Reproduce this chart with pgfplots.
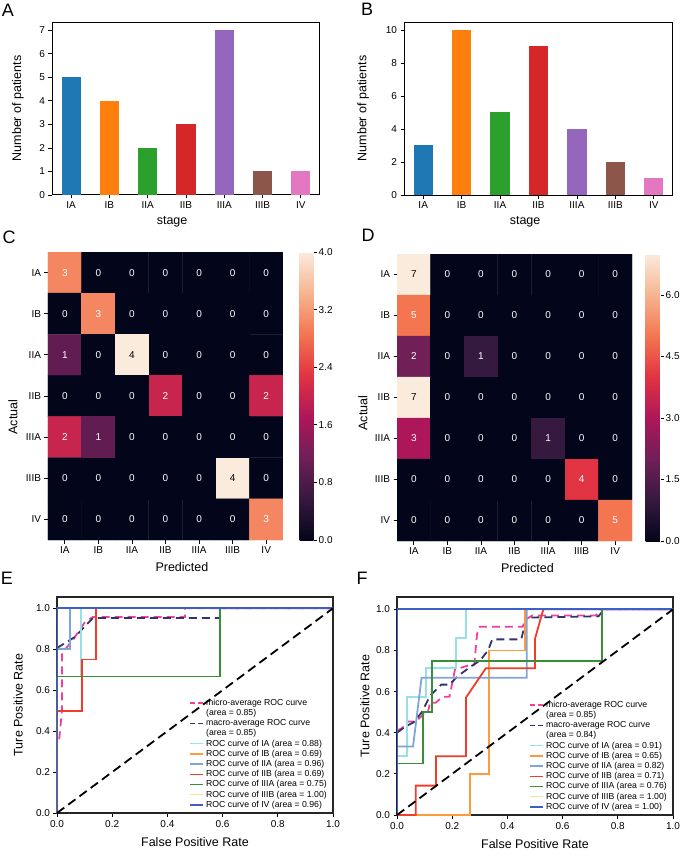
\documentclass[border=0pt]{standalone}
\usepackage{fontspec}
\setmainfont{Liberation Sans}
\usepackage{pgfplots}
\usepackage{pgfplotstable}
\pgfplotsset{compat=1.18}

% bar colours
\definecolor{bIA}{HTML}{1F77B4}
\definecolor{bIB}{HTML}{FF7F0E}
\definecolor{bIIA}{HTML}{2CA02C}
\definecolor{bIIB}{HTML}{D62728}
\definecolor{bIIIA}{HTML}{9467BD}
\definecolor{bIIIB}{HTML}{8C564B}
\definecolor{bIV}{HTML}{E377C2}
% roc colours
\definecolor{rIA}{HTML}{96E0E6}
\definecolor{rIB}{HTML}{FF9A3C}
\definecolor{rIIA}{HTML}{7FA4DC}
\definecolor{rIIB}{HTML}{F03C28}
\definecolor{rIIIA}{HTML}{3A8E3A}
\definecolor{rIIIB}{HTML}{F2E29C}
\definecolor{rIV}{HTML}{3F5FC8}
\definecolor{micro}{HTML}{F0409A}
\definecolor{macro}{HTML}{33336B}

\pgfplotsset{
  every axis/.append style={
    scale only axis,
    font=\fontsize{12.5}{14}\selectfont,
    tick label style={font=\fontsize{10}{12}\selectfont},
    /pgf/number format/assume math mode=true,
    major tick length=3.5pt, tick align=outside,
    tick style={line width=0.8pt, black},
  },
  barax/.style={
    xmin=-0.5, xmax=6.5, ymin=0,
    xtick={0,...,6}, xticklabels={IA,IB,IIA,IIB,IIIA,IIIB,IV},
    xtick pos=bottom, ytick pos=left,
    axis line style={line width=1pt},
    ylabel={Number of patients},
  },
  heat/.style={
    xmin=-0.5, xmax=6.5, ymin=-0.5, ymax=6.5, y dir=reverse,
    xtick={0,...,6}, ytick={0,...,6},
    xticklabels={IA,IB,IIA,IIB,IIIA,IIIB,IV},
    yticklabels={IA,IB,IIA,IIB,IIIA,IIIB,IV},
    xtick pos=bottom, ytick pos=left,
    axis line style={draw=none},
    colormap={rocket}{rgb255=(3,5,26) rgb255=(53,25,62) rgb255=(112,31,87)
      rgb255=(173,23,89) rgb255=(225,51,66) rgb255=(243,118,81)
      rgb255=(246,180,143) rgb255=(250,235,221)},
    point meta min=0,
    xlabel={Predicted}, ylabel={Actual}, title={stage},
    colorbar,
  },
  cbar/.style={
    scale only axis, anchor=north west,
    ytick pos=right, yticklabel pos=right, tick align=outside,
    axis line style={draw=none}, major tick length=3pt,
    yticklabel style={inner xsep=2pt,
      /pgf/number format/.cd, fixed, fixed zerofill, precision=1},
  },
  roc/.style={
    xmin=0, xmax=1, ymin=0,
    xtick={0,0.2,0.4,0.6,0.8,1}, ytick={0,0.2,0.4,0.6,0.8,1},
    ticklabel style={/pgf/number format/.cd, fixed, fixed zerofill, precision=1},
    axis line style={line width=1.2pt, black!85},
    xtick pos=bottom, ytick pos=left,
    xlabel={False Positive Rate}, ylabel={Ture Positive Rate},
    legend cell align=left,
    legend image code/.code={\draw[#1] (0pt,0pt) -- (13pt,0pt);},
    legend style={at={(1,0)}, anchor=south east, draw=none, fill=none,
      font=\fontsize{8.7}{9}\selectfont, row sep=-1.6pt, inner sep=1pt,
      /tikz/every odd column/.style={column sep=0pt}},
  },
  cl/.style={forget plot, line width=1.8pt},
  dsh/.style={forget plot, line width=1.8pt, dash pattern=on 8pt off 5pt},
  labs/.style={draw=none, mark=none, point meta=explicit,
    nodes near coords, nodes near coords align={center},
    nodes near coords style={font=\fontsize{10}{12}\selectfont}},
}

\pgfplotstableread{
x y c
0 0 3
1 0 0
2 0 0
3 0 0
4 0 0
5 0 0
6 0 0
0 1 0
1 1 3
2 1 0
3 1 0
4 1 0
5 1 0
6 1 0
0 2 1
1 2 0
2 2 4
3 2 0
4 2 0
5 2 0
6 2 0
0 3 0
1 3 0
2 3 0
3 3 2
4 3 0
5 3 0
6 3 2
0 4 2
1 4 1
2 4 0
3 4 0
4 4 0
5 4 0
6 4 0
0 5 0
1 5 0
2 5 0
3 5 0
4 5 0
5 5 4
6 5 0
0 6 0
1 6 0
2 6 0
3 6 0
4 6 0
5 6 0
6 6 3
}\cmC

\pgfplotstableread{
x y c
0 0 7
1 0 0
2 0 0
3 0 0
4 0 0
5 0 0
6 0 0
0 1 5
1 1 0
2 1 0
3 1 0
4 1 0
5 1 0
6 1 0
0 2 2
1 2 0
2 2 1
3 2 0
4 2 0
5 2 0
6 2 0
0 3 7
1 3 0
2 3 0
3 3 0
4 3 0
5 3 0
6 3 0
0 4 3
1 4 0
2 4 0
3 4 0
4 4 1
5 4 0
6 4 0
0 5 0
1 5 0
2 5 0
3 5 0
4 5 0
5 5 4
6 5 0
0 6 0
1 6 0
2 6 0
3 6 0
4 6 0
5 6 0
6 6 5
}\cmD

\begin{document}
\begin{tikzpicture}
\path[use as bounding box] (0pt,0pt) rectangle (685pt,-852pt);

% panel letters
\node[font=\fontsize{18}{20}\selectfont] at (8pt,-10pt) {A};
\node[font=\fontsize{18}{20}\selectfont] at (367pt,-9pt) {B};
\node[font=\fontsize{18}{20}\selectfont] at (9pt,-237pt) {C};
\node[font=\fontsize{18}{20}\selectfont] at (368pt,-235pt) {D};
\node[font=\fontsize{18}{20}\selectfont] at (7pt,-578pt) {E};
\node[font=\fontsize{18}{20}\selectfont] at (362pt,-578pt) {F};

% A: number of patients per stage
\begin{axis}[barax, at={(52pt,-22pt)}, anchor=north west,
  width=268pt, height=173pt, ymax=7.35, ytick={0,...,7},
  ylabel style={at={(axis description cs:-0.127,0.5)}, anchor=center}]
\addplot[ybar, bar width=0.5, bar shift=0pt, fill=bIA, draw=none] coordinates {(0,5)};
\addplot[ybar, bar width=0.5, bar shift=0pt, fill=bIB, draw=none] coordinates {(1,4)};
\addplot[ybar, bar width=0.5, bar shift=0pt, fill=bIIA, draw=none] coordinates {(2,2)};
\addplot[ybar, bar width=0.5, bar shift=0pt, fill=bIIB, draw=none] coordinates {(3,3)};
\addplot[ybar, bar width=0.5, bar shift=0pt, fill=bIIIA, draw=none] coordinates {(4,7)};
\addplot[ybar, bar width=0.5, bar shift=0pt, fill=bIIIB, draw=none] coordinates {(5,1)};
\addplot[ybar, bar width=0.5, bar shift=0pt, fill=bIV, draw=none] coordinates {(6,1)};
\end{axis}

% B
\begin{axis}[barax, at={(404pt,-22pt)}, anchor=north west,
  width=269pt, height=173pt, ymax=10.48, ytick={0,2,...,10},
  ylabel style={at={(axis description cs:-0.152,0.5)}, anchor=center}]
\addplot[ybar, bar width=0.5, bar shift=0pt, fill=bIA, draw=none] coordinates {(0,3)};
\addplot[ybar, bar width=0.5, bar shift=0pt, fill=bIB, draw=none] coordinates {(1,10)};
\addplot[ybar, bar width=0.5, bar shift=0pt, fill=bIIA, draw=none] coordinates {(2,5)};
\addplot[ybar, bar width=0.5, bar shift=0pt, fill=bIIB, draw=none] coordinates {(3,9)};
\addplot[ybar, bar width=0.5, bar shift=0pt, fill=bIIIA, draw=none] coordinates {(4,4)};
\addplot[ybar, bar width=0.5, bar shift=0pt, fill=bIIIB, draw=none] coordinates {(5,2)};
\addplot[ybar, bar width=0.5, bar shift=0pt, fill=bIV, draw=none] coordinates {(6,1)};
\end{axis}

% C: confusion matrix
\begin{axis}[heat, at={(48pt,-252pt)}, anchor=north west,
  width=235pt, height=288pt, point meta max=4,
  title style={at={(axis description cs:0.528,1.083)}, anchor=center},
  xlabel style={at={(axis description cs:0.57,-0.094)}, anchor=center},
  ylabel style={at={(axis description cs:-0.149,0.427)}, anchor=center},
  colorbar style={cbar, at={(parent axis.north east)}, xshift=8pt, width=14pt,
    ytick={0,0.8,1.6,2.4,3.2,4}}]
\addplot[matrix plot*, mesh/cols=7, point meta=explicit] table[meta=c] {\cmC};
\addplot[labs, white, restrict expr to domain={\thisrow{c}}{-1:3.5}] table[meta=c] {\cmC};
\addplot[labs, black, restrict expr to domain={\thisrow{c}}{3.5:10}] table[meta=c] {\cmC};
\end{axis}

% D
\begin{axis}[heat, at={(397pt,-254pt)}, anchor=north west,
  width=235pt, height=287pt, point meta max=7,
  title style={at={(axis description cs:0.545,1.091)}, anchor=center},
  xlabel style={at={(axis description cs:0.555,-0.094)}, anchor=center},
  ylabel style={at={(axis description cs:-0.145,0.446)}, anchor=center},
  colorbar style={cbar, at={(parent axis.north east)}, xshift=5pt, width=15pt,
    ytick={0,1.5,3,4.5,6}}]
\addplot[matrix plot*, mesh/cols=7, point meta=explicit] table[meta=c] {\cmD};
\addplot[labs, white, restrict expr to domain={\thisrow{c}}{-1:6.5}] table[meta=c] {\cmD};
\addplot[labs, black, restrict expr to domain={\thisrow{c}}{6.5:10}] table[meta=c] {\cmD};
\end{axis}

% E: ROC curves
\begin{axis}[roc, at={(57pt,-597pt)}, anchor=north west,
  width=276pt, height=216pt, ymax=1.055,
  xlabel style={at={(axis description cs:0.5,-0.135)}, anchor=center},
  ylabel style={at={(axis description cs:-0.141,0.5)}, anchor=center},
  legend style={xshift=-3pt, yshift=1pt}]
\addplot[dsh, micro] coordinates {
(0.008,0.36) (0.018,0.5) (0.018,0.78) (0.06,0.85) (0.1,0.93) (0.13,0.957)
(0.464,0.957) (0.464,1) (1,1)};
\addplot[dsh, macro] coordinates {
(0,0.806) (0.065,0.86) (0.107,0.92) (0.13,0.952) (0.59,0.952) (0.59,1) (1,1)};
\addplot[cl, rIA] coordinates {(0,0) (0,0.667) (0.088,0.667) (0.088,1) (1,1)};
\addplot[cl, rIB] coordinates {(0,0) (0,0.5) (0.092,0.5) (0.092,0.75) (0.141,0.75) (0.141,1) (1,1)};
\addplot[cl, rIIA] coordinates {(0,0) (0,0.8) (0.048,0.8) (0.048,1) (1,1)};
\addplot[cl, rIIB] coordinates {(0,0) (0,0.5) (0.092,0.5) (0.092,0.75) (0.141,0.75) (0.141,1) (1,1)};
\addplot[cl, rIIIA] coordinates {(0,0) (0,0.667) (0.59,0.667) (0.59,1) (1,1)};
\addplot[cl, rIIIB] coordinates {(0,0) (0,1) (1,1)};
\addplot[cl, rIV] coordinates {(0,0) (0,1) (1,1)};
\addplot[forget plot, black, line width=1.8pt, dash pattern=on 9pt off 5pt] coordinates {(0,0) (1,1)};
\addlegendimage{micro, line width=1.5pt, dash pattern=on 5pt off 3pt}
\addlegendentry{micro-average ROC curve}
\addlegendimage{empty legend}
\addlegendentry{(area = 0.85)}
\addlegendimage{macro, line width=1.5pt, dash pattern=on 5pt off 3pt}
\addlegendentry{macro-average ROC curve}
\addlegendimage{empty legend}
\addlegendentry{(area = 0.85)}
\addlegendimage{rIA, line width=1.5pt}\addlegendentry{ROC curve of IA (area = 0.88)}
\addlegendimage{rIB, line width=1.5pt}\addlegendentry{ROC curve of IB (area = 0.69)}
\addlegendimage{rIIA, line width=1.5pt}\addlegendentry{ROC curve of IIA (area = 0.96)}
\addlegendimage{rIIB, line width=1.5pt}\addlegendentry{ROC curve of IIB (area = 0.69)}
\addlegendimage{rIIIA, line width=1.5pt}\addlegendentry{ROC curve of IIIA (area = 0.75)}
\addlegendimage{rIIIB, line width=1.5pt}\addlegendentry{ROC curve of IIIB (area = 1.00)}
\addlegendimage{rIV, line width=1.5pt}\addlegendentry{ROC curve of IV (area = 0.96)}
\end{axis}

% F
\begin{axis}[roc, at={(397pt,-597pt)}, anchor=north west,
  width=276pt, height=218pt, ymax=1.06,
  xlabel style={at={(axis description cs:0.5,-0.135)}, anchor=center},
  ylabel style={at={(axis description cs:-0.116,0.5)}, anchor=center},
  legend style={xshift=-3pt, yshift=1pt}]
\addplot[dsh, micro] coordinates {
(0,0.41) (0.02,0.424) (0.04,0.455) (0.07,0.455) (0.095,0.49) (0.11,0.49)
(0.12,0.546) (0.14,0.546) (0.165,0.575) (0.19,0.575) (0.2,0.64) (0.21,0.707)
(0.265,0.73) (0.28,0.73) (0.29,0.88) (0.3,0.915) (0.455,0.915) (0.465,0.95)
(0.49,0.97) (0.72,0.97) (0.74,1) (1,1)};
\addplot[dsh, macro] coordinates {
(0,0.40) (0.03,0.43) (0.06,0.45) (0.09,0.5) (0.12,0.58) (0.16,0.634) (0.19,0.634)
(0.22,0.675) (0.265,0.72) (0.3,0.75) (0.33,0.8) (0.345,0.854) (0.45,0.854)
(0.47,0.96) (0.73,0.966) (0.75,1) (1,1)};
\addplot[cl, rIA] coordinates {(0,0) (0,0.285) (0.036,0.285) (0.036,0.572) (0.105,0.572)
(0.105,0.715) (0.214,0.715) (0.214,0.86) (0.25,0.86) (0.25,1) (1,1)};
\addplot[cl, rIB] coordinates {(0,0) (0.265,0) (0.265,0.2) (0.333,0.2) (0.333,0.8)
(0.465,0.8) (0.465,1) (1,1)};
\addplot[cl, rIIA] coordinates {(0,0) (0,0.333) (0.058,0.333) (0.089,0.667) (0.47,0.667)
(0.47,1) (1,1)};
\addplot[cl, rIIB] coordinates {(0,0) (0.068,0) (0.068,0.143) (0.141,0.143) (0.141,0.286)
(0.25,0.286) (0.25,0.571) (0.322,0.714) (0.5,0.714) (0.5,0.857) (0.53,1) (1,1)};
\addplot[cl, rIIIA] coordinates {(0,0) (0,0.25) (0.095,0.25) (0.095,0.5) (0.128,0.5)
(0.128,0.75) (0.744,0.75) (0.744,1) (1,1)};
\addplot[cl, rIIIB] coordinates {(0,0) (0,1) (1,1)};
\addplot[cl, rIV] coordinates {(0,0) (0,1) (1,1)};
\addplot[forget plot, black, line width=1.8pt, dash pattern=on 9pt off 5pt] coordinates {(0,0) (1,1)};
\addlegendimage{micro, line width=1.5pt, dash pattern=on 5pt off 3pt}
\addlegendentry{micro-average ROC curve}
\addlegendimage{empty legend}
\addlegendentry{(area = 0.85)}
\addlegendimage{macro, line width=1.5pt, dash pattern=on 5pt off 3pt}
\addlegendentry{macro-average ROC curve}
\addlegendimage{empty legend}
\addlegendentry{(area = 0.84)}
\addlegendimage{rIA, line width=1.5pt}\addlegendentry{ROC curve of IA (area = 0.91)}
\addlegendimage{rIB, line width=1.5pt}\addlegendentry{ROC curve of IB (area = 0.65)}
\addlegendimage{rIIA, line width=1.5pt}\addlegendentry{ROC curve of IIA (area = 0.82)}
\addlegendimage{rIIB, line width=1.5pt}\addlegendentry{ROC curve of IIB (area = 0.71)}
\addlegendimage{rIIIA, line width=1.5pt}\addlegendentry{ROC curve of IIIA (area = 0.76)}
\addlegendimage{rIIIB, line width=1.5pt}\addlegendentry{ROC curve of IIIB (area = 1.00)}
\addlegendimage{rIV, line width=1.5pt}\addlegendentry{ROC curve of IV (area = 1.00)}
\end{axis}
\end{tikzpicture}
\end{document}
